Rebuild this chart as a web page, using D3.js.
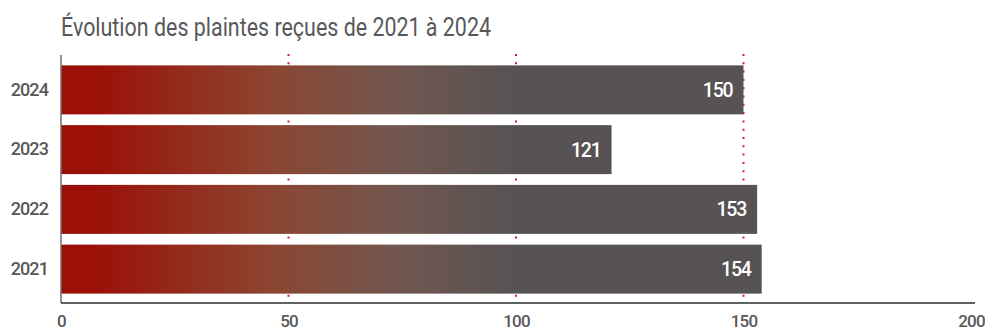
<!DOCTYPE html>
<html><head><meta charset="utf-8">
<script src="https://cdn.jsdelivr.net/npm/d3@7"></script>
<style>body{margin:0;background:#fff}svg{display:block;font-family:Roboto,sans-serif}</style>
</head><body><svg id="c" width="985" height="331"></svg>
<script>
const title = "Évolution des plaintes reçues de 2021 à 2024";
const years = ["2024","2023","2022","2021"];
const values = [150,121,153,154];
const xTicks = [0,50,100,150,200];
const gridTicks = [50,100,150];

const svg = d3.select("#c");
const x = d3.scaleLinear().domain([0,200]).range([61,971]);
const y = d3.scaleBand().domain(years).range([60,299]).paddingInner(0.18).paddingOuter(0.09);

const defs = svg.append("defs");
const g = defs.append("linearGradient").attr("id","grad").attr("gradientUnits","userSpaceOnUse")
  .attr("x1",x(8)).attr("x2",x(100)).attr("y1",0).attr("y2",0);
[[0,"#9b1108"],[0.42,"#8b4632"],[0.72,"#705750"],[1,"#575253"]].forEach(s=>
  g.append("stop").attr("offset",s[0]).attr("stop-color",s[1]));

svg.append("text").attr("x",61).attr("y",36).attr("fill","#58585a")
  .attr("font-size",25).attr("textLength",430).attr("lengthAdjust","spacingAndGlyphs").text(title);

// grid
svg.append("g").selectAll("line").data(gridTicks).join("line")
  .attr("x1",d=>x(d)).attr("x2",d=>x(d)).attr("y1",54).attr("y2",303)
  .attr("stroke","#e3102a").attr("stroke-width",2).attr("stroke-dasharray","2 6.3");

// bars
svg.append("g").selectAll("rect").data(values).join("rect")
  .attr("x",x(0)).attr("y",(d,i)=>y(years[i])).attr("height",y.bandwidth())
  .attr("width",d=>x(d)-x(0)).attr("fill","url(#grad)");

svg.append("g").selectAll("text").data(values).join("text")
  .attr("x",d=>x(d)-11).attr("y",(d,i)=>y(years[i])+y.bandwidth()/2)
  .attr("dy","0.36em").attr("text-anchor","end").attr("fill","#fff")
  .attr("font-size",19.5).attr("font-weight",500).attr("letter-spacing",-1.2).text(d=>d);

// y axis
const ya = svg.append("g").attr("transform",`translate(${x(0)},0)`).call(d3.axisLeft(y).tickSize(0).tickPadding(13));
ya.select(".domain").attr("stroke","#6f6f6f").attr("stroke-width",1.5).attr("d","M0,55V303");
ya.selectAll("text").attr("font-family","Roboto,sans-serif").attr("font-size",18).attr("font-weight",500)
  .attr("fill","#58585a").attr("letter-spacing",-0.9);

// x axis
const xa = svg.append("g").attr("transform","translate(0,303)").call(d3.axisBottom(x).tickValues(xTicks).tickSize(0).tickPadding(12));
xa.select(".domain").attr("stroke","#2d2d2d").attr("stroke-width",1.5).attr("d",`M${x(0)},0H975`);
xa.selectAll("text").attr("font-family","Roboto,sans-serif").attr("font-size",17).attr("font-weight",500)
  .attr("fill","#58585a").attr("letter-spacing",-0.8);
</script></body></html>
